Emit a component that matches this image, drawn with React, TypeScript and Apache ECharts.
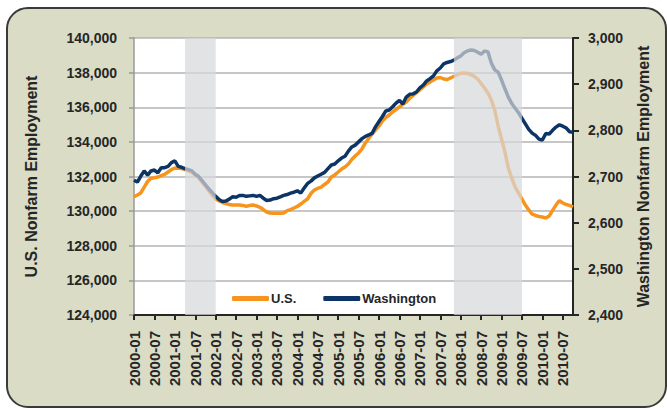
import React, { useEffect, useRef } from "react";
import * as echarts from "echarts";

// Monthly categories 2000-01 .. 2010-10
const months: string[] = [];
for (let y = 2000; y <= 2010; y++) {
  for (let m = 1; m <= 12; m++) {
    if (y === 2010 && m > 10) break;
    months.push(`${y}-${String(m).padStart(2, "0")}`);
  }
}

// U.S. nonfarm employment (thousands), left axis
const usEmployment = [
  130830, 130930, 131050, 131390, 131710, 131900, 131930, 131970, 132050, 132120, 132260, 132400,
  132490, 132470, 132460, 132400, 132320, 132230, 132090, 131910, 131680, 131420, 131160, 130900,
  130700, 130590, 130500, 130440, 130380, 130350, 130350, 130350, 130330, 130270, 130330, 130350,
  130300, 130220, 130090, 129950, 129890, 129880, 129880, 129880, 129890, 130030, 130090, 130180,
  130270, 130410, 130560, 130700, 131020, 131220, 131310, 131390, 131540, 131680, 131970, 132090,
  132260, 132430, 132550, 132720, 132980, 133180, 133360, 133590, 133940, 134210, 134460, 134690,
  134920, 135210, 135410, 135550, 135730, 135870, 136020, 136170, 136300, 136510, 136680, 136850,
  137000, 137170, 137340, 137460, 137570, 137690, 137720, 137630, 137600, 137690, 137780, 137890,
  137960, 137980, 137950, 137890, 137780, 137630, 137370, 137110, 136820, 136420, 135840, 134920,
  134170, 133420, 132490, 131910, 131390, 131050, 130700, 130350, 130070, 129830, 129750, 129690,
  129660, 129600, 129720, 130040, 130350, 130610, 130470, 130380, 130330, 130240,
];

// Washington nonfarm employment (thousands), right axis
const waEmployment = [
  2692, 2688, 2701, 2712, 2703, 2712, 2714, 2708, 2719, 2719, 2722, 2730,
  2734, 2722, 2720, 2717, 2715, 2712, 2705, 2700, 2691, 2682, 2673, 2665,
  2657, 2650, 2646, 2647, 2651, 2656, 2655, 2659, 2659, 2657, 2658, 2659,
  2657, 2659, 2653, 2648, 2649, 2652, 2653, 2656, 2659, 2661, 2664, 2666,
  2669, 2664, 2675, 2685, 2690, 2697, 2701, 2705, 2709, 2717, 2725, 2727,
  2734, 2740, 2744, 2755, 2764, 2768, 2775, 2782, 2787, 2790, 2794, 2808,
  2819, 2830, 2842, 2844, 2851, 2859, 2865, 2857, 2872, 2878, 2879, 2883,
  2892, 2898, 2907, 2912, 2918, 2929, 2935, 2944, 2947, 2949, 2952, 2957,
  2961, 2968, 2972, 2974, 2973, 2969, 2965, 2972, 2970, 2946, 2931, 2926,
  2909, 2890, 2872, 2858, 2848, 2838, 2826, 2814, 2802, 2794, 2789, 2781,
  2779, 2793, 2792, 2800, 2807, 2812, 2809, 2805, 2797, 2796,
];

// Recession shading (start month, end month)
const recessions: [string, string][] = [
  ["2001-04", "2002-01"],
  ["2007-11", "2009-07"],
];

const usMin = 124000;
const usMax = 140000;
const usStep = 2000;
const waMin = 2400;
const waMax = 3000;
const waStep = 100;

const SANS = "'Liberation Sans', Arial, sans-serif";
const INK = "#262626";

export default function App() {
  const ref = useRef<HTMLDivElement>(null);

  useEffect(() => {
    if (!ref.current) return;
    const chart = echarts.init(ref.current, undefined, { renderer: "svg" });
    const fmt = (v: number) => v.toLocaleString("en-US");
    const shadeData = recessions.map(([a, b]) => [months.indexOf(a), months.indexOf(b)]);

    chart.setOption({
      animation: false,
      grid: {
        left: 134,
        right: 94,
        top: 38,
        bottom: 93,
        show: true,
        backgroundColor: "#ffffff",
        borderWidth: 0,
      },
      legend: {
        data: ["U.S.", "Washington"],
        left: 227,
        top: 287,
        z: 20,
        icon: "roundRect",
        itemWidth: 37,
        itemHeight: 5,
        itemGap: 27,
        textStyle: { fontSize: 13, fontWeight: "bold", fontFamily: SANS, color: INK, padding: [0, 0, 0, -3] },
      },
      xAxis: {
        type: "category",
        data: months,
        boundaryGap: false,
        axisLine: { lineStyle: { color: INK, width: 2 } },
        axisTick: { interval: 5, length: 5, lineStyle: { color: INK, width: 2 } },
        axisLabel: {
          interval: 5,
          rotate: 90,
          margin: 16,
          fontSize: 15,
          fontWeight: "bold",
          fontFamily: SANS,
          color: INK,
        },
        splitLine: { show: false },
      },
      yAxis: [
        {
          type: "value",
          position: "left",
          min: usMin,
          max: usMax,
          interval: usStep,
          name: "U.S. Nonfarm Employment",
          nameLocation: "middle",
          nameRotate: 90,
          nameGap: 95,
          nameTextStyle: { fontSize: 16, fontWeight: "bold", fontFamily: SANS, color: INK },
          axisLine: { show: true, lineStyle: { color: "#9a9a9a", width: 1.5 } },
          axisTick: { show: true, length: 5, lineStyle: { color: "#9a9a9a", width: 1.5 } },
          axisLabel: {
            margin: 17,
            fontSize: 14,
            fontWeight: "bold",
            fontFamily: SANS,
            color: INK,
            formatter: fmt,
          },
          splitLine: { show: true, lineStyle: { color: "#b3b3b3", width: 1.5 } },
        },
        {
          type: "value",
          position: "right",
          min: waMin,
          max: waMax,
          interval: waStep,
          name: "Washington Nonfarm Employment",
          nameLocation: "middle",
          nameRotate: 90,
          nameGap: 62,
          nameTextStyle: { fontSize: 16, fontWeight: "bold", fontFamily: SANS, color: INK },
          axisLine: { show: true, lineStyle: { color: INK, width: 2 } },
          axisTick: { show: true, length: 6, lineStyle: { color: INK, width: 2 } },
          axisLabel: {
            margin: 15,
            fontSize: 14,
            fontWeight: "bold",
            fontFamily: SANS,
            color: INK,
            formatter: fmt,
          },
          splitLine: { show: false },
        },
      ],
      series: [
        {
          name: "U.S.",
          type: "line",
          yAxisIndex: 0,
          data: usEmployment,
          symbol: "none",
          color: "#f7941d",
          lineStyle: { width: 3.5, color: "#f7941d" },
          z: 2,
        },
        {
          name: "Washington",
          type: "line",
          yAxisIndex: 1,
          data: waEmployment,
          symbol: "none",
          color: "#0c3566",
          lineStyle: { width: 3.5, color: "#0c3566" },
          z: 3,
        },
        {
          name: "Recession",
          type: "custom",
          yAxisIndex: 0,
          silent: true,
          z: 10,
          encode: { x: [0, 1] },
          data: shadeData,
          renderItem: (_params: any, api: any) => {
            const s = api.coord([api.value(0), usMax]);
            const e = api.coord([api.value(1), usMin]);
            return {
              type: "rect",
              shape: { x: s[0], y: s[1], width: e[0] - s[0], height: e[1] - s[1] },
              style: { fill: "rgba(214,215,218,0.71)" },
            };
          },
        },
      ],
    });

    return () => chart.dispose();
  }, []);

  return (
    <div
      style={{
        position: "fixed",
        left: 0,
        top: 0,
        width: 667,
        height: 408,
        overflow: "hidden",
        background: "#ffffff",
      }}
    >
      <div
        style={{
          position: "absolute",
          left: 6,
          top: 7,
          width: 661,
          height: 401,
          boxSizing: "border-box",
          border: "2px solid #3a3a3a",
          borderRadius: 22,
          background: "#dadcc6",
        }}
      />
      <div ref={ref} style={{ position: "absolute", left: 0, top: 0, width: 667, height: 408 }} />
    </div>
  );
}
